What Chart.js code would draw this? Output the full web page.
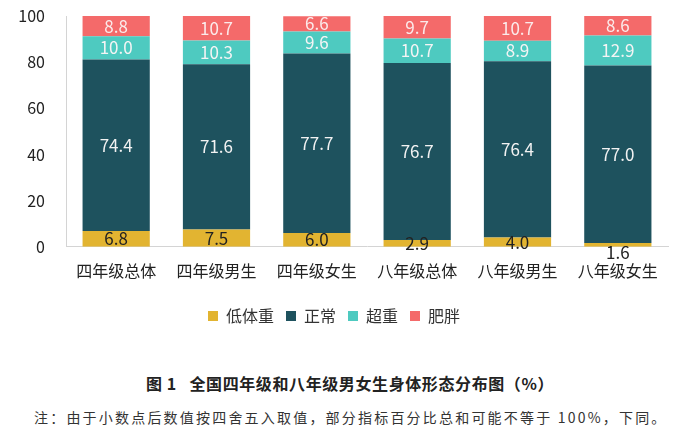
<!DOCTYPE html>
<html lang="zh">
<head>
<meta charset="UTF-8">
<title>身体形态分布图</title>
<script src="https://cdn.jsdelivr.net/npm/chart.js"></script>
<style>
  html, body { margin: 0; padding: 0; background: #fff; }
  body { width: 700px; height: 442px; overflow: hidden; font-family: "Noto Sans CJK SC", sans-serif; }
  #wrap { position: absolute; left: 0; top: 0; width: 700px; height: 340px; }
  #title { position: absolute; left: 0; width: 700px; top: 371px; text-align: center; font-size: 16px; font-weight: bold; color: #222; letter-spacing: 0.6px; }
  #note { position: absolute; left: 34px; top: 407px; font-size: 14px; color: #333; letter-spacing: 2.2px; }
</style>
</head>
<body>
<div id="wrap"><canvas id="myChart" width="700" height="340"></canvas></div>
<div id="title">图 1&nbsp;&nbsp;&nbsp;全国四年级和八年级男女生身体形态分布图（%）</div>
<div id="note">注：由于小数点后数值按四舍五入取值，部分指标百分比总和可能不等于 100%，下同。</div>
<script>
// categories and series (percent)
const categories = ['四年级总体', '四年级男生', '四年级女生', '八年级总体', '八年级男生', '八年级女生'];
const underweight = [6.8, 7.5, 6.0, 2.9, 4.0, 1.6];
const normal = [74.4, 71.6, 77.7, 76.7, 76.4, 77.0];
const overweight = [10.0, 10.3, 9.6, 10.7, 8.9, 12.9];
const obese = [8.8, 10.7, 6.6, 9.7, 10.7, 8.6];
const yTicks = [0, 20, 40, 60, 80, 100];

const FONT = '"Noto Sans CJK SC", sans-serif';

// draw the value in the middle of each segment
const segmentLabels = {
  id: 'segmentLabels',
  afterDatasetsDraw(chart) {
    const ctx = chart.ctx;
    ctx.save();
    ctx.font = '17px ' + FONT;
    ctx.textAlign = 'center';
    ctx.textBaseline = 'middle';
    chart.data.datasets.forEach((ds, i) => {
      const meta = chart.getDatasetMeta(i);
      meta.data.forEach((bar, j) => {
        let y = (bar.y + bar.base) / 2;
        // tiny segments: put the label under the bar
        if (Math.abs(bar.base - bar.y) < 5) y = bar.base + 6;
        ctx.fillStyle = ds.labelColor;
        ctx.fillText(ds.data[j].toFixed(1), bar.x, y);
      });
    });
    ctx.restore();
  }
};

new Chart(document.getElementById('myChart'), {
  type: 'bar',
  data: {
    labels: categories,
    datasets: [
      { label: '低体重', data: underweight, backgroundColor: '#E2B431', labelColor: '#222' },
      { label: '正常', data: normal, backgroundColor: '#1E525E', labelColor: '#f2f2f2' },
      { label: '超重', data: overweight, backgroundColor: '#4ECAC0', labelColor: '#f4f4f4' },
      { label: '肥胖', data: obese, backgroundColor: '#F46A6A', labelColor: '#fbeaea' }
    ]
  },
  options: {
    responsive: false,
    animation: false,
    events: [],
    datasets: { bar: { barPercentage: 0.67, categoryPercentage: 1.0 } },
    layout: { padding: { left: 0, right: 32, top: 16, bottom: 6 } },
    plugins: {
      tooltip: { enabled: false },
      legend: {
        position: 'bottom',
        labels: {
          font: { family: FONT, size: 16 },
          color: '#333',
          boxWidth: 10,
          boxHeight: 10,
          padding: 12
        }
      }
    },
    scales: {
      x: {
        stacked: true,
        grid: { display: false, drawTicks: false },
        border: { color: '#d4d4d4', width: 1 },
        ticks: { font: { family: FONT, size: 16 }, color: '#222', padding: 15 }
      },
      y: {
        stacked: true,
        min: 0,
        max: 100,
        afterBuildTicks: (axis) => { axis.ticks = yTicks.map(v => ({ value: v })); },
        afterFit: (axis) => {
          axis.width = 66;
          axis.paddingTop = 0;
          axis.paddingBottom = 0;
        },
        grid: { display: false, drawTicks: false },
        border: { color: '#d4d4d4', width: 1 },
        ticks: { font: { family: FONT, size: 16 }, color: '#222', padding: 21 }
      }
    }
  },
  plugins: [segmentLabels]
});
</script>
</body>
</html>
